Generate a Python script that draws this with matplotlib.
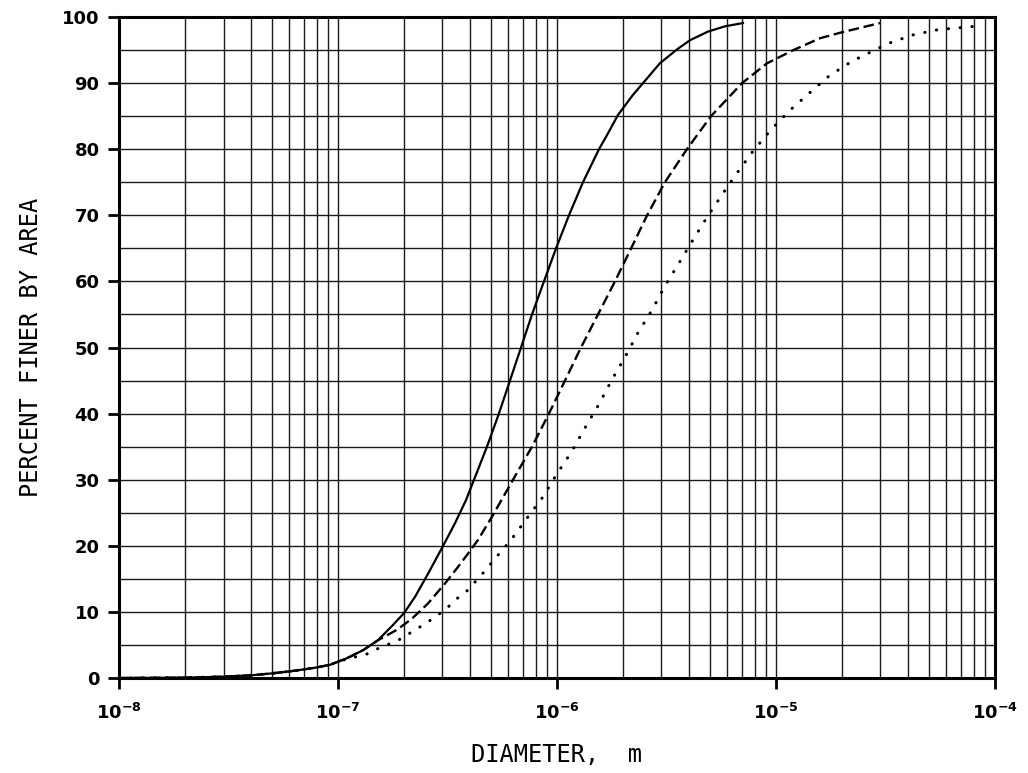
import numpy as np
import matplotlib.pyplot as plt
from matplotlib.ticker import FixedLocator, LogLocator, NullFormatter

# --- Data (diameter in m, percent finer by area) ---
solid_d = [1e-8, 2e-8, 3e-8, 4e-8, 5e-8, 6e-8, 7e-8, 8e-8, 9.19e-8, 1.1e-7, 1.3e-7,
           1.52e-7, 1.78e-7, 2.0e-7, 2.25e-7, 2.58e-7, 3.02e-7, 3.42e-7, 3.84e-7,
           4.18e-7, 4.79e-7, 5.43e-7, 6.1e-7, 6.85e-7, 7.69e-7, 8.72e-7, 9.9e-7,
           1.134e-6, 1.314e-6, 1.555e-6, 1.69e-6, 1.9e-6, 2.22e-6, 2.47e-6, 2.95e-6,
           3.53e-6, 4.05e-6, 4.89e-6, 5.85e-6, 7.07e-6]
solid_p = [0, 0.05, 0.2, 0.4, 0.7, 1.0, 1.3, 1.6, 2.0, 3.0, 4.2,
           5.7, 8.0, 9.8, 12.3, 15.8, 20, 23.4, 26.9,
           30, 35, 40, 45, 50, 55, 60, 65,
           70, 75, 80, 82.1, 85.2, 88.2, 90, 93.0,
           95.1, 96.5, 97.8, 98.6, 99.1]

dashed_d = [1e-8, 2e-8, 3e-8, 4e-8, 5e-8, 6e-8, 7e-8, 8e-8, 9.19e-8, 1.1e-7, 1.3e-7,
            1.52e-7, 1.86e-7, 2.18e-7, 2.58e-7, 3.08e-7, 3.53e-7, 3.92e-7, 4.36e-7,
            5.05e-7, 6.3e-7, 7.69e-7, 9.19e-7, 1.088e-6, 1.287e-6, 1.539e-6, 1.84e-6,
            2.18e-6, 2.58e-6, 3.11e-6, 3.92e-6, 5.05e-6, 7.0e-6, 9.1e-6, 1.2e-5,
            1.59e-5, 2.0e-5, 2.99e-5]
dashed_p = [0, 0.05, 0.2, 0.4, 0.7, 1.0, 1.3, 1.6, 2.0, 3.0, 4.2,
            5.7, 7.3, 9.0, 11.3, 14.3, 16.8, 18.8, 20.9,
            24.4, 30, 35, 40, 45, 50, 55, 60,
            65, 70, 75, 80, 85, 90, 93.0, 95.0,
            96.8, 97.7, 99.1]

dotted_d = [1e-8, 2e-8, 3e-8, 4e-8, 5e-8, 6e-8, 7e-8, 8e-8, 9.19e-8, 1.1e-7, 1.33e-7,
            1.51e-7, 1.73e-7, 1.96e-7, 2.2e-7, 2.5e-7, 2.8e-7, 3.15e-7, 3.49e-7,
            3.92e-7, 4.27e-7, 4.69e-7, 5.1e-7, 6.17e-7, 7.3e-7, 8.63e-7, 1.0e-6,
            1.17e-6, 1.34e-6, 1.56e-6, 1.78e-6, 2.05e-6, 2.34e-6, 2.72e-6, 3.11e-6,
            3.61e-6, 4.18e-6, 4.84e-6, 5.67e-6, 6.64e-6, 7.85e-6, 9.4e-6, 1.15e-5,
            1.42e-5, 1.75e-5, 2.22e-5, 3.25e-5, 4.22e-5, 5.5e-5, 8.1e-5]
dotted_p = [0, 0.05, 0.2, 0.4, 0.7, 1.0, 1.3, 1.6, 2.0, 2.9, 3.5,
            4.4, 5.2, 6.0, 7.1, 8.2, 9.3, 10.6, 12.0,
            13.3, 14.7, 16.2, 17.7, 20.9, 24.2, 27.4, 30.9,
            34.3, 37.8, 41.5, 45.1, 48.6, 52.2, 55.7, 59.3,
            62.8, 66.3, 69.7, 73.1, 76.4, 79.7, 82.8, 85.8,
            88.5, 91.1, 93.3, 96.0, 97.3, 98.1, 98.6]

x_ticks = [1e-8, 1e-7, 1e-6, 1e-5, 1e-4]
x_labels = [r'$\mathbf{10^{-8}}$', r'$\mathbf{10^{-7}}$', r'$\mathbf{10^{-6}}$',
            r'$\mathbf{10^{-5}}$', r'$\mathbf{10^{-4}}$']
y_ticks = [0, 10, 20, 30, 40, 50, 60, 70, 80, 90, 100]

# --- Plot ---
fig = plt.figure(figsize=(10.28, 7.73), dpi=100)
ax = fig.add_axes([0.1158, 0.1229, 0.852, 0.855])

ax.plot(solid_d, solid_p, color='black', lw=1.6, zorder=3)
ax.plot(dashed_d, dashed_p, color='black', lw=1.7, linestyle=(0, (4.5, 2.0)), zorder=3)
ax.plot(dotted_d, dotted_p, color='black', lw=2.2, linestyle=(0, (0.1, 3.8)),
        dash_capstyle='round', zorder=3)

ax.set_xscale('log')
ax.set_xlim(1e-8, 1e-4)
ax.set_ylim(0, 100)

ax.set_xticks(x_ticks)
ax.set_xticklabels(x_labels, fontsize=13)
ax.xaxis.set_minor_locator(LogLocator(base=10, subs=np.arange(2, 10), numticks=20))
ax.xaxis.set_minor_formatter(NullFormatter())
ax.set_yticks(y_ticks)
ax.set_yticklabels([str(v) for v in y_ticks], fontsize=13, fontweight='bold')
ax.yaxis.set_minor_locator(FixedLocator(np.arange(5, 100, 10)))

ax.grid(True, which='both', color='#1a1a1a', lw=1.0)
ax.tick_params(which='major', direction='out', length=8, width=2, pad=6)
ax.tick_params(which='minor', length=0)
ax.tick_params(axis='x', pad=10)
for s in ax.spines.values():
    s.set_linewidth(2.2)

ax.set_xlabel('DIAMETER,  m', fontsize=17, family='DejaVu Sans Mono', labelpad=14)
ax.set_ylabel('PERCENT FINER BY AREA', fontsize=17, family='DejaVu Sans Mono', labelpad=14)

plt.savefig('out.png', dpi=100)
